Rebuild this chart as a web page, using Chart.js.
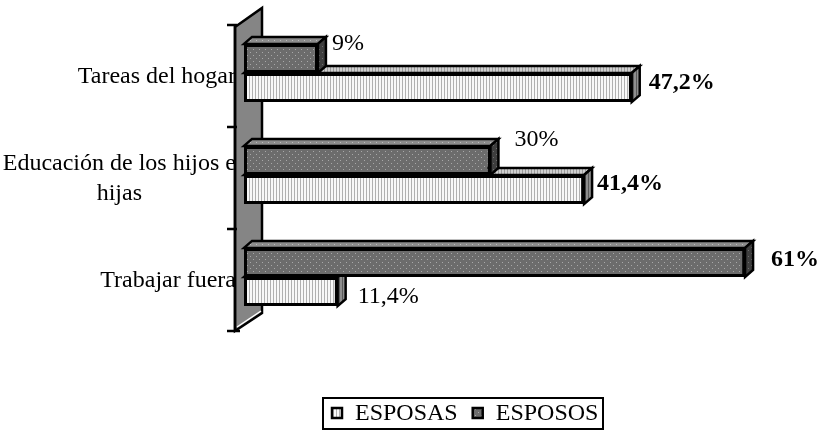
<!DOCTYPE html>
<html>
<head>
<meta charset="utf-8">
<script src="https://cdn.jsdelivr.net/npm/chart.js@4/dist/chart.umd.min.js"></script>
<style>
  html, body { margin: 0; padding: 0; background: #fff; }
  #wrap { width: 823px; height: 431px; }
</style>
</head>
<body>
<div id="wrap"><canvas id="grafico" width="823" height="431"></canvas></div>
<script>
// datos
var categorias = ['Tareas del hogar', ['Educación de los hijos e', 'hijas'], 'Trabajar fuera']
var esposas = [47.2, 41.4, 11.4]
var esposos = [9, 30, 61]
var series = ['ESPOSAS', 'ESPOSOS']

var fuente = '"Liberation Serif", "Times New Roman", serif'
var prof = { dx: 8, dy: -7 } // profundidad 3D de las barras
var grosor = 2.5 // grosor de los bordes negros

function patron(fondo, tinta, tipo) { // crea las tramas de relleno
    let c = document.createElement('canvas')
    let g = c.getContext('2d')
    if (tipo == 'rayas') {
        c.width = 3; c.height = 1
        g.fillStyle = fondo; g.fillRect(0, 0, 3, 1)
        g.fillStyle = tinta; g.fillRect(0, 0, 1, 1)
    } else {
        c.width = 6; c.height = 6
        g.fillStyle = fondo; g.fillRect(0, 0, 6, 6)
        g.fillStyle = tinta
        g.fillRect(1, 1, 1, 1)
        g.fillRect(4, 4, 1, 1)
    }
    return g.createPattern(c, 'repeat')
}

var claro = {
    frente: patron('#f8f8f8', '#b0b0b0', 'rayas'),
    arriba: patron('#cfcfcf', '#9c9c9c', 'rayas'),
    lado: patron('#8e8e8e', '#5a5a5a', 'rayas')
}
var oscuro = {
    frente: patron('#6c6c6c', '#a8a8a8', 'puntos'),
    arriba: patron('#8c8c8c', '#bcbcbc', 'puntos'),
    lado: patron('#3e3e3e', '#6e6e6e', 'puntos')
}
var estilos = [claro, oscuro]

// posicion de cada etiqueta respecto al extremo de la barra (como en el original)
var ajusteEtiquetas = [
    [{ dx: 17, dy: -5 }, { dx: 13, dy: -6 }, { dx: 20, dy: 5 }],
    [{ dx: 14, dy: -15 }, { dx: 24, dy: -21 }, { dx: 26, dy: -3 }]
]

function poligono(ctx, puntos, relleno) {
    ctx.beginPath()
    ctx.moveTo(puntos[0][0], puntos[0][1])
    for (let p of puntos.slice(1)) ctx.lineTo(p[0], p[1])
    ctx.closePath()
    ctx.fillStyle = relleno
    ctx.fill()
    ctx.stroke()
}

var pluginTresD = {
    id: 'tresD',
    beforeDatasetsDraw(chart) {
        let ctx = chart.ctx
        let area = chart.chartArea
        let ejeY = chart.scales.y
        ctx.save()
        ctx.strokeStyle = '#000'
        ctx.lineWidth = grosor
        ctx.lineJoin = 'miter'
        // pared lateral gris
        let paso = ejeY.getPixelForValue(1) - ejeY.getPixelForValue(0)
        let arriba = ejeY.getPixelForValue(0) - paso / 2 + 3
        let abajo = ejeY.getPixelForValue(categorias.length - 1) + paso / 2 + 3
        let xPared = area.left - 9
        poligono(ctx, [[xPared, arriba + 2], [xPared + 27, arriba - 17], [xPared + 27, abajo - 18], [xPared, abajo]], '#858585')
        ctx.strokeStyle = '#fff'
        ctx.lineWidth = 1.5
        ctx.beginPath()
        ctx.moveTo(xPared + 2, abajo - 4)
        ctx.lineTo(xPared + 26, abajo - 20)
        ctx.stroke()
        // eje y marcas
        ctx.strokeStyle = '#000'
        ctx.lineWidth = grosor
        ctx.beginPath()
        ctx.moveTo(xPared, arriba - 1)
        ctx.lineTo(xPared, abajo + 1)
        for (let i = 0; i <= categorias.length; i++) {
            let y = arriba + paso * i
            ctx.moveTo(xPared - 8, y)
            ctx.lineTo(xPared + (i == categorias.length ? 5 : 2), y)
        }
        ctx.stroke()
        // caras de arriba y laterales: primero la serie de abajo
        for (let d = 0; d < chart.data.datasets.length; d++) {
            let meta = chart.getDatasetMeta(d)
            let est = estilos[d]
            for (let barra of meta.data) {
                let p = barra.getProps(['x', 'y', 'base', 'height'], true)
                let izq = Math.min(p.x, p.base), der = Math.max(p.x, p.base)
                let sup = p.y - p.height / 2, inf = p.y + p.height / 2
                poligono(ctx, [[izq, sup], [izq + prof.dx, sup + prof.dy], [der + prof.dx, sup + prof.dy], [der, sup]], est.arriba)
                poligono(ctx, [[der, sup], [der + prof.dx, sup + prof.dy], [der + prof.dx, inf + prof.dy], [der, inf]], est.lado)
            }
        }
        ctx.restore()
    },
    afterDraw(chart) {
        let ctx = chart.ctx
        let ejeY = chart.scales.y
        ctx.save()
        ctx.fillStyle = '#000'
        // etiquetas de categorias
        ctx.font = '24px ' + fuente
        ctx.textBaseline = 'middle'
        ctx.textAlign = 'center'
        categorias.forEach((cat, i) => {
            let lineas = Array.isArray(cat) ? cat : [cat]
            let ancho = Math.max(...lineas.map(l => ctx.measureText(l).width))
            let centroX = chart.chartArea.left - 8 - ancho / 2
            let yc = ejeY.getPixelForValue(i) + 4
            lineas.forEach((l, k) => {
                ctx.fillText(l, centroX, yc + (k - (lineas.length - 1) / 2) * 30)
            })
        })
        // etiquetas de valores
        ctx.textAlign = 'left'
        chart.data.datasets.forEach((ds, d) => {
            let meta = chart.getDatasetMeta(d)
            meta.data.forEach((barra, i) => {
                let maximo = Math.max(...chart.data.datasets.map(s => s.data[i]))
                ctx.font = (ds.data[i] == maximo ? 'bold ' : '') + '24px ' + fuente
                let texto = String(ds.data[i]).replace('.', ',') + '%'
                let aj = ajusteEtiquetas[d][i]
                ctx.fillText(texto, barra.x + aj.dx, barra.y + aj.dy)
            })
        })
        // leyenda con recuadro
        ctx.strokeStyle = '#000'
        ctx.lineWidth = 2
        ctx.strokeRect(323, 398, 280, 31)
        ctx.font = '24px ' + fuente
        let x = 332
        chart.data.datasets.forEach((ds, d) => {
            ctx.fillStyle = estilos[d].frente
            ctx.fillRect(x, 408, 10, 10)
            ctx.lineWidth = grosor
            ctx.strokeRect(x, 408, 10, 10)
            ctx.fillStyle = '#000'
            ctx.fillText(ds.label, x + 23, 414)
            x += 23 + ctx.measureText(ds.label).width + 15
        })
        ctx.restore()
    }
}

new Chart(document.getElementById('grafico'), {
    type: 'bar',
    data: {
        labels: categorias,
        datasets: [
            { label: series[0], data: esposas, order: 2, backgroundColor: claro.frente },
            { label: series[1], data: esposos, order: 1, backgroundColor: oscuro.frente }
        ]
    },
    options: {
        indexAxis: 'y',
        responsive: false,
        animation: false,
        devicePixelRatio: 1,
        layout: { padding: { left: 244, right: 4, top: 22, bottom: 103 } },
        datasets: {
            bar: {
                categoryPercentage: 0.57,
                barPercentage: 1,
                borderColor: '#000',
                borderWidth: 3,
                borderSkipped: false
            }
        },
        scales: {
            x: { display: false, min: 0, max: 70 },
            y: { display: false, grid: { display: false } }
        },
        plugins: {
            legend: { display: false },
            tooltip: { enabled: false }
        }
    },
    plugins: [pluginTresD]
})
</script>
</body>
</html>
